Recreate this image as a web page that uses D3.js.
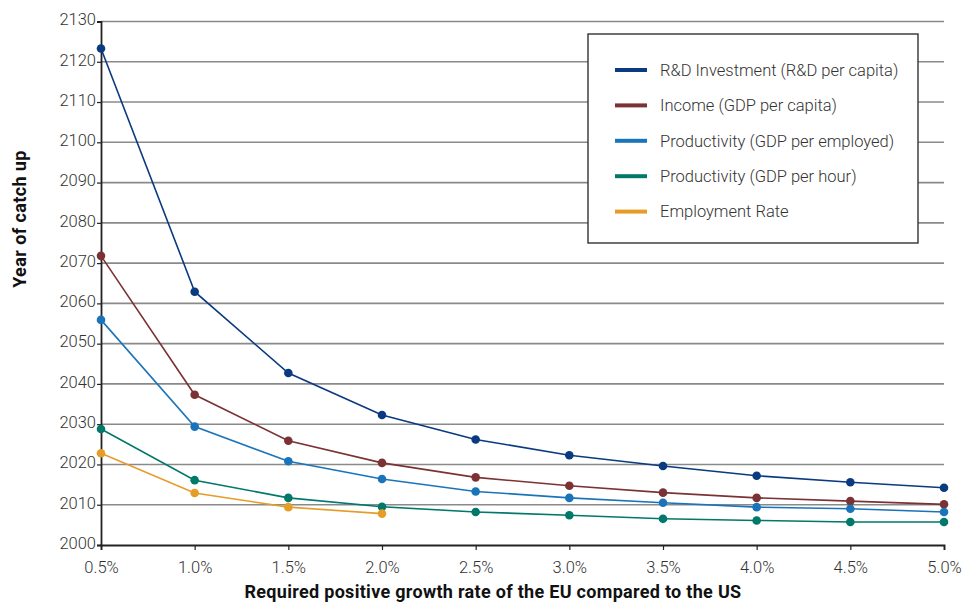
<!DOCTYPE html>
<html><head><meta charset="utf-8">
<script src="https://cdn.jsdelivr.net/npm/d3@7"></script>
<style>
body{margin:0;background:#fff;}
svg{display:block;}
text{font-family:"Roboto","Open Sans",sans-serif;}
</style></head>
<body><svg id="c" width="967" height="612"></svg>
<script>
const growthRates = [0.5,1.0,1.5,2.0,2.5,3.0,3.5,4.0,4.5,5.0];
const yTicks = [2000,2010,2020,2030,2040,2050,2060,2070,2080,2090,2100,2110,2120,2130];
const seriesNames = ["R&D Investment (R&D per capita)","Income (GDP per capita)","Productivity (GDP per employed)","Productivity (GDP per hour)","Employment Rate"];
const seriesColors = ["#0a3a7f","#7b3234","#1a74ba","#00786a","#e59d27"];
const rdInvestment = [2123.3,2062.9,2042.7,2032.3,2026.2,2022.3,2019.6,2017.2,2015.6,2014.2];
const income = [2071.8,2037.3,2025.9,2020.4,2016.8,2014.7,2013.0,2011.7,2010.9,2010.1];
const prodEmployed = [2055.9,2029.4,2020.8,2016.4,2013.3,2011.7,2010.5,2009.4,2009.0,2008.2];
const prodHour = [2028.8,2016.1,2011.7,2009.5,2008.2,2007.4,2006.5,2006.1,2005.7,2005.7];
const employmentRate = [2022.8,2012.9,2009.4,2007.8];
const seriesValues = [rdInvestment,income,prodEmployed,prodHour,employmentRate];

const svg = d3.select("#c");
const L=101, R=944, T=21.5, B=545;
const x = d3.scaleLinear().domain([0.5,5.0]).range([L,R]);
const y = d3.scaleLinear().domain([2000,2130]).range([B,T]);

// gridlines
svg.append("g").selectAll("line").data(yTicks.filter(d=>d>2000)).join("line")
  .attr("x1",L).attr("x2",R).attr("y1",d=>y(d)).attr("y2",d=>y(d))
  .attr("stroke","#8a8a8a").attr("stroke-width",1.6);

// y axis
const ya = svg.append("g").attr("transform",`translate(${L},0)`)
  .call(d3.axisLeft(y).tickValues(yTicks).tickFormat(d3.format("d")).tickSize(4).tickPadding(1));
ya.select(".domain").attr("stroke","#222").attr("stroke-width",1.8);
ya.selectAll(".tick line").attr("stroke","#222").attr("stroke-width",1.2);
ya.selectAll("text").attr("font-size",16.5).attr("font-weight",300).attr("fill","#333").attr("dy","0.2em");

// x axis
const xa = svg.append("g").attr("transform",`translate(0,${B})`)
  .call(d3.axisBottom(x).tickValues(growthRates).tickFormat(d=>d.toFixed(1)+"%").tickSize(5).tickPadding(11));
xa.select(".domain").attr("stroke","#222").attr("stroke-width",1.8);
xa.selectAll(".tick line").attr("stroke","#222").attr("stroke-width",1.2);
xa.selectAll("text").attr("font-size",16.5).attr("font-weight",300).attr("fill","#333");

// titles
svg.append("text").attr("x",493).attr("y",598).attr("text-anchor","middle")
  .attr("font-size",18).attr("font-weight","bold").attr("letter-spacing",0.3).attr("fill","#111")
  .text("Required positive growth rate of the EU compared to the US");
svg.append("text").attr("transform","translate(26,219) rotate(-90)").attr("text-anchor","middle")
  .attr("font-size",18).attr("font-weight","bold").attr("letter-spacing",0.4).attr("fill","#111")
  .text("Year of catch up");

// lines
const line = d3.line().x((d,i)=>x(growthRates[i])).y(d=>y(d));
seriesValues.forEach((vals,k)=>{
  const g = svg.append("g");
  g.append("path").attr("d",line(vals)).attr("fill","none")
    .attr("stroke",seriesColors[k]).attr("stroke-width",1.6);
  g.selectAll("circle").data(vals).join("circle")
    .attr("cx",(d,i)=>x(growthRates[i])).attr("cy",d=>y(d)).attr("r",4.3)
    .attr("fill",seriesColors[k]);
});

// legend
const lg = svg.append("g");
lg.append("rect").attr("x",588).attr("y",34).attr("width",330).attr("height",209)
  .attr("fill","#fff").attr("stroke","#333").attr("stroke-width",1.4);
seriesNames.forEach((n,k)=>{
  const yy = 70 + k*35.4;
  lg.append("line").attr("x1",615).attr("x2",647).attr("y1",yy).attr("y2",yy)
    .attr("stroke",seriesColors[k]).attr("stroke-width",4);
  lg.append("text").attr("x",660).attr("y",yy).attr("dy","0.35em")
    .attr("font-size",16.5).attr("font-weight",300).attr("fill","#333").text(n);
});
</script></body></html>
